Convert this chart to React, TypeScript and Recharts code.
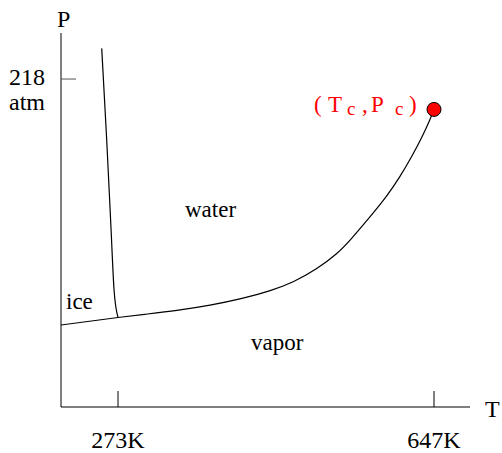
import React from 'react';
import { LineChart, Line, XAxis, YAxis, ReferenceDot } from 'recharts';

// temperature (K) vs pressure (atm), schematic water phase diagram
const tTicks = [273, 647];
const pTicks = [218];
const tDomain = [205.5, 689.6];
const pDomain = [0, 248.6];

const vaporCurve = [
  { t: 273, p: 59.5 },
  { t: 302.6, p: 61.5 },
  { t: 342.8, p: 64.1 },
  { t: 381.9, p: 67.5 },
  { t: 420.9, p: 72.1 },
  { t: 452.9, p: 77.1 },
  { t: 480.1, p: 82.7 },
  { t: 508.5, p: 91.7 },
  { t: 532.2, p: 101.7 },
  { t: 547.6, p: 110.7 },
  { t: 571.2, p: 126.3 },
  { t: 591.4, p: 140.2 },
  { t: 606.7, p: 152.9 },
  { t: 622.1, p: 167.8 },
  { t: 634.0, p: 180.8 },
  { t: 642.3, p: 191.1 },
  { t: 647, p: 197.8 },
];

const sublimationCurve = [
  { t: 205.5, p: 54.5 },
  { t: 273, p: 59.5 },
];

const meltingCurve = [
  { t: 253.7, p: 238.4 },
  { t: 259.6, p: 177.5 },
  { t: 264.4, p: 122.3 },
  { t: 268.3, p: 77.8 },
  { t: 273, p: 59.5 },
];

const critical = { t: 647, p: 197.8 };

const serif = '"Liberation Serif", "Times New Roman", serif';
const txt = { fontFamily: serif };

const XTick = (props: any) => {
  const { x, y, payload } = props;
  return (
    <g>
      <line x1={x} y1={y - 16} x2={x} y2={y} stroke="#000" strokeWidth={1} />
      <text x={x} y={y + 41} textAnchor="middle" style={txt} fontSize={24} fill="#000">
        {payload.value}K
      </text>
    </g>
  );
};

const YTick = (props: any) => {
  const { x, y, payload } = props;
  return (
    <g>
      <line x1={x} y1={y} x2={x + 15} y2={y} stroke="#555" strokeWidth={1} />
      <text x={9} y={y + 6} style={txt} fontSize={24} fill="#000">
        {payload.value}
      </text>
      <text x={9} y={y + 31} style={txt} fontSize={24} fill="#000">
        atm
      </text>
    </g>
  );
};

export default function App() {
  return (
    <div style={{ position: 'absolute', left: 0, top: 0, background: '#fff' }}>
      <LineChart width={502} height={453} margin={{ top: 33, right: 32, bottom: 0, left: 0 }}>
        <XAxis
          dataKey="t"
          type="number"
          domain={tDomain}
          ticks={tTicks}
          height={46}
          tickSize={0}
          tickMargin={0}
          tickLine={false}
          axisLine={{ stroke: '#000', strokeWidth: 1 }}
          tick={<XTick />}
          allowDataOverflow
        />
        <YAxis
          dataKey="p"
          type="number"
          domain={pDomain}
          ticks={pTicks}
          width={61}
          tickSize={0}
          tickMargin={0}
          tickLine={false}
          axisLine={{ stroke: '#000', strokeWidth: 1 }}
          tick={<YTick />}
          allowDataOverflow
        />
        <ReferenceDot
          x={critical.t}
          y={critical.p}
          r={7}
          fill="#ff0000"
          stroke="#000"
          strokeWidth={1}
          ifOverflow="visible"
        />
        <Line data={vaporCurve} dataKey="p" type="basis" stroke="#000" strokeWidth={1.2} dot={false} isAnimationActive={false} />
        <Line data={sublimationCurve} dataKey="p" type="linear" stroke="#000" strokeWidth={1.2} dot={false} isAnimationActive={false} />
        <Line data={meltingCurve} dataKey="p" type="monotone" stroke="#000" strokeWidth={1.2} dot={false} isAnimationActive={false} />
        <text x={57} y={27} style={txt} fontSize={24} fill="#000">P</text>
        <text x={485} y={417} style={txt} fontSize={24} fill="#000">T</text>
        <text x={185} y={217} style={txt} fontSize={23} fill="#000">water</text>
        <text x={66} y={309} style={txt} fontSize={23} fill="#000">ice</text>
        <text x={251} y={350} style={txt} fontSize={23} fill="#000">vapor</text>
        <text y={112} style={txt} fontSize={23} fill="#ff0000">
          <tspan x={314}>(</tspan>
          <tspan x={328}>T</tspan>
          <tspan x={347} y={115} fontSize={19}>c</tspan>
          <tspan x={362} y={112}>,</tspan>
          <tspan x={371}>P</tspan>
          <tspan x={395} y={115} fontSize={19}>c</tspan>
          <tspan x={409} y={112}>)</tspan>
        </text>
      </LineChart>
    </div>
  );
}
